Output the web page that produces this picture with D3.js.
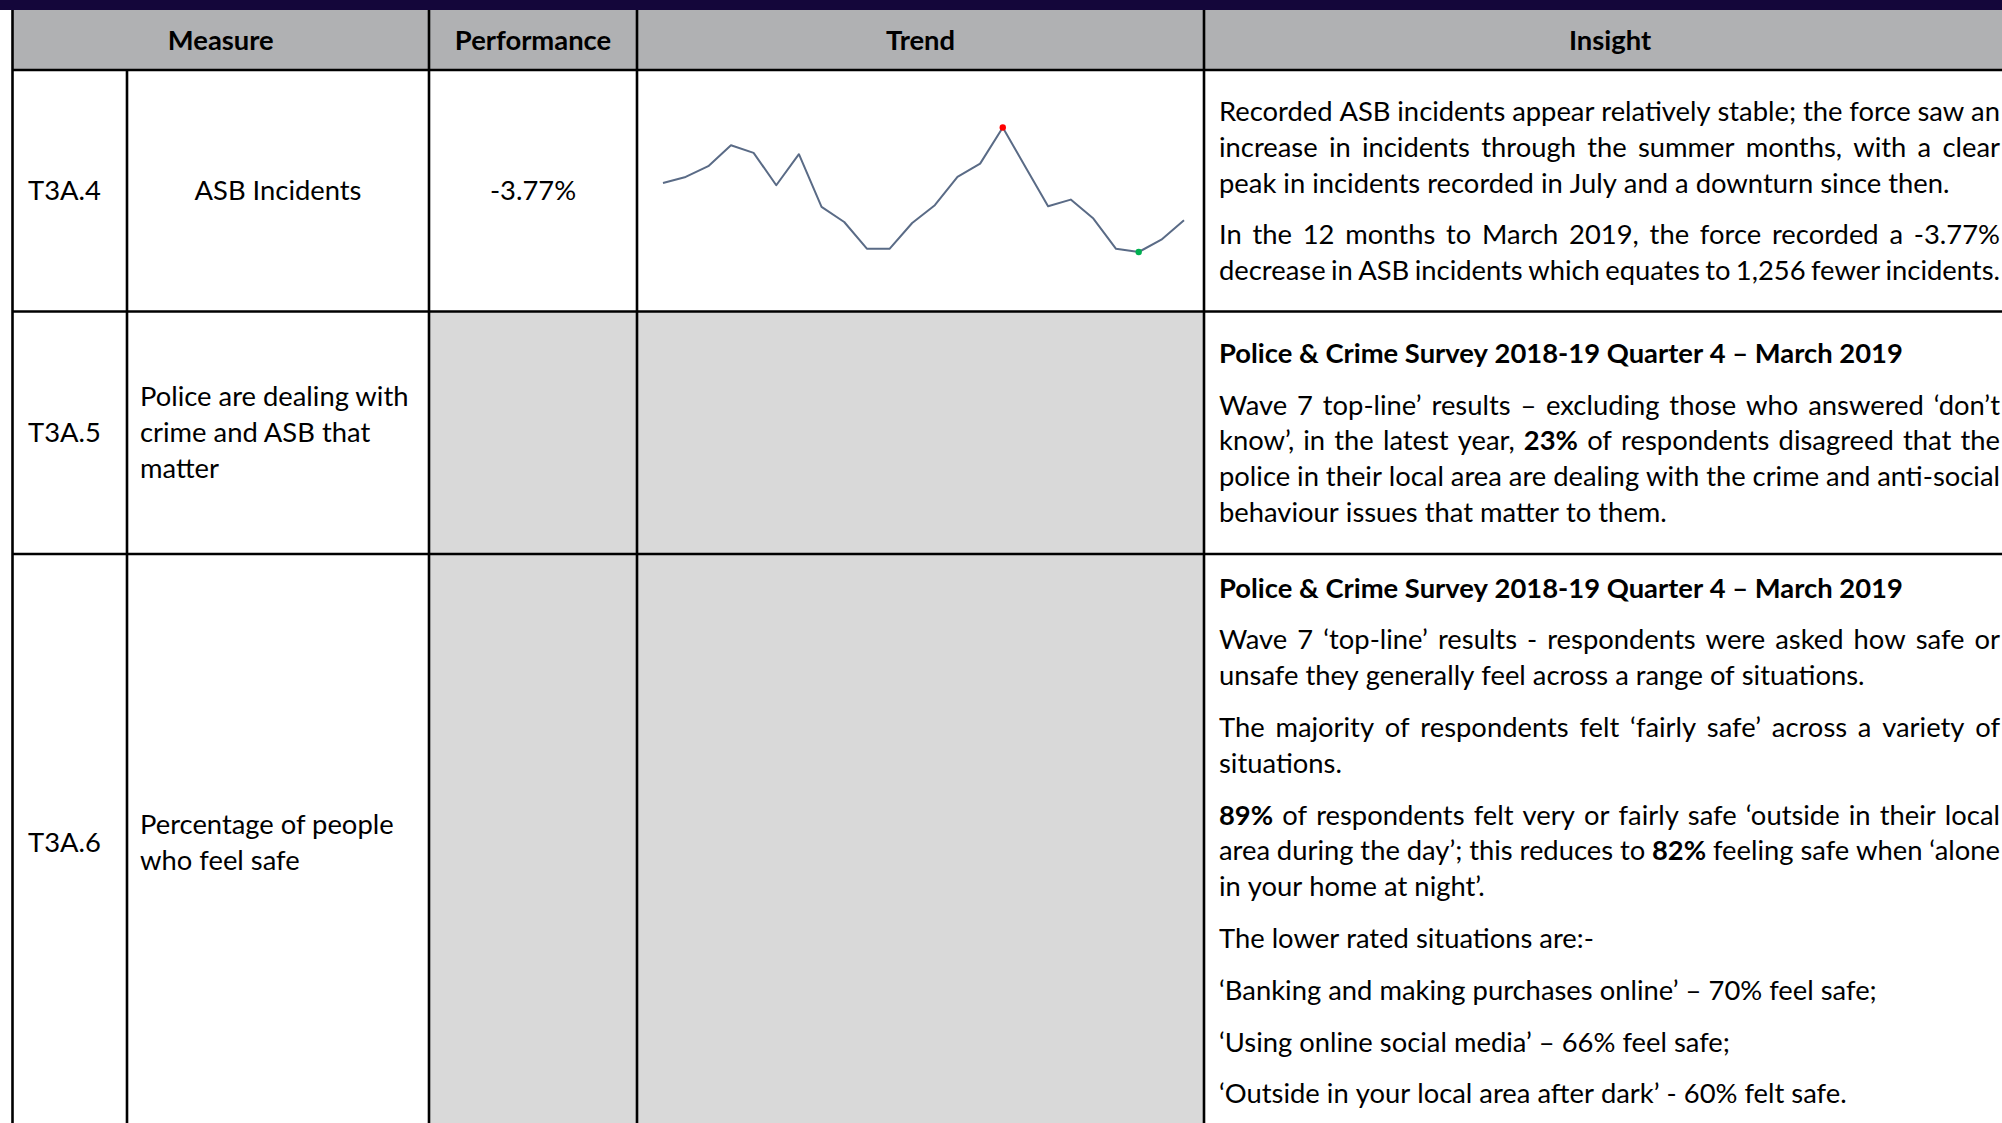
<!DOCTYPE html>
<html><head><meta charset="utf-8">
<script src="https://cdn.jsdelivr.net/npm/d3@7"></script>
<style>html,body{margin:0;padding:0;background:#fff;overflow:hidden}svg{display:block}</style>
</head><body>
<svg id="c" width="2002" height="1123"></svg>
<script>
// ---------------- DATA ----------------
const headers = ["Measure", "Performance", "Trend", "Insight"];
const measureIds = ["T3A.4", "T3A.5", "T3A.6"];
const measureNames = [
  ["ASB Incidents"],
  ["Police are dealing with", "crime and ASB that", "matter"],
  ["Percentage of people", "who feel safe"]
];
const performance = ["-3.77%", null, null];

// Monthly recorded ASB incidents (Apr 2017 – Mar 2019), read from the sparkline
const months = ["Apr-17","May-17","Jun-17","Jul-17","Aug-17","Sep-17","Oct-17","Nov-17","Dec-17","Jan-18","Feb-18","Mar-18",
                "Apr-18","May-18","Jun-18","Jul-18","Aug-18","Sep-18","Oct-18","Nov-18","Dec-18","Jan-19","Feb-19","Mar-19"];
const asbIncidents = [2886, 2953, 3073, 3307, 3222, 2860, 3207, 2618, 2450, 2152, 2150, 2439,
                      2637, 2953, 3102, 3505, 3065, 2625, 2700, 2488, 2150, 2115, 2253, 2469];

// Insight text: paragraphs of lines; **x** marks bold words
const insightRow1 = [
  {lines: ["Recorded ASB incidents appear relatively stable; the force saw an",
           "increase in incidents through the summer months, with a clear",
           "peak in incidents recorded in July and a downturn since then."]},
  {lines: ["In the 12 months to March 2019, the force recorded a -3.77%",
           "decrease in ASB incidents which equates to 1,256 fewer incidents."]}
];
const insightRow2 = [
  {title: true, lines: ["Police & Crime Survey 2018-19 Quarter 4 \u2013 March 2019"]},
  {lines: ["Wave 7 top-line\u2019 results \u2013 excluding those who answered \u2018don\u2019t",
           "know\u2019, in the latest year, **23%** of respondents disagreed that the",
           "police in their local area are dealing with the crime and anti-social",
           "behaviour issues that matter to them."]}
];
const insightRow3 = [
  {title: true, lines: ["Police & Crime Survey 2018-19 Quarter 4 \u2013 March 2019"]},
  {lines: ["Wave 7 \u2018top-line\u2019 results - respondents were asked how safe or",
           "unsafe they generally feel across a range of situations."]},
  {lines: ["The majority of respondents felt \u2018fairly safe\u2019 across a variety of",
           "situations."]},
  {lines: ["**89%** of respondents felt very or fairly safe \u2018outside in their local",
           "area during the day\u2019; this reduces to **82%** feeling safe when \u2018alone",
           "in your home at night\u2019."]},
  {lines: ["The lower rated situations are:-"]},
  {lines: ["\u2018Banking and making purchases online\u2019 \u2013 70% feel safe;"]},
  {lines: ["\u2018Using online social media\u2019 \u2013 66% feel safe;"]},
  {lines: ["\u2018Outside in your local area after dark\u2019 - 60% felt safe."]}
];
const insights = [insightRow1, insightRow2, insightRow3];

// ---------------- LAYOUT ----------------
const FONT = "Lato, 'Open Sans', 'DejaVu Sans', sans-serif";
const FS = 26;
const colX = [12.5, 127, 429, 637, 1204, 2016];
const rowY = [10, 70, 311.5, 554, 1132];
const insightFirstBaseline = [121, 362.7, 597.6];
const lineStep = 35.8, paraGap = 16;
const textLeft = 1219, textRight = 2000;

const svg = d3.select("#c");

// horizontal compression to emulate a narrow (Calibri-like) face
const probe = svg.append("text").attr("font-family", FONT).attr("font-size", FS)
  .text("peak in incidents recorded in July and a downturn since then.");
const sx = 729 / probe.node().getComputedTextLength();
probe.remove();

// top band
svg.append("rect").attr("x", 0).attr("y", 0).attr("width", 2002).attr("height", rowY[0]).attr("fill", "#14063a");
// header
svg.append("rect").attr("x", colX[0]).attr("y", rowY[0]).attr("width", colX[5] - colX[0]).attr("height", rowY[1] - rowY[0]).attr("fill", "#b0b1b3");
// grey cells (rows 2 and 3, Performance and Trend)
[1, 2].forEach(r => {
  svg.append("rect").attr("x", colX[2]).attr("y", rowY[r + 1]).attr("width", colX[4] - colX[2])
    .attr("height", rowY[r + 2] - rowY[r + 1]).attr("fill", "#d9d9d9");
});

// borders
const bw = 2.6;
const g = svg.append("g").attr("stroke", "#000").attr("stroke-width", bw);
[rowY[1], rowY[2], rowY[3], rowY[4]].forEach(y => g.append("line").attr("x1", colX[0]).attr("x2", colX[5]).attr("y1", y).attr("y2", y));
[colX[0], colX[2], colX[3], colX[4], colX[5]].forEach(x => g.append("line").attr("x1", x).attr("x2", x).attr("y1", rowY[0]).attr("y2", rowY[4]));
g.append("line").attr("x1", colX[1]).attr("x2", colX[1]).attr("y1", rowY[1]).attr("y2", rowY[4]);

function textAt(x, y, str, anchor, bold) {
  return svg.append("g").attr("transform", `translate(${x},${y}) scale(${sx},1)`)
    .append("text").attr("font-family", FONT).attr("font-size", FS)
    .attr("font-weight", bold ? "bold" : "normal").attr("text-anchor", anchor || "start")
    .attr("fill", "#000").text(str);
}

// headers
const hdrCenters = [(colX[0] + colX[2]) / 2, (colX[2] + colX[3]) / 2, (colX[3] + colX[4]) / 2, (colX[4] + colX[5]) / 2];
headers.forEach((h, i) => textAt(hdrCenters[i], 50, h, "middle", true));

// rows: ids, names, performance
measureIds.forEach((id, r) => {
  const top = rowY[r + 1], bot = rowY[r + 2];
  const mid = (top + bot) / 2;
  textAt(28, mid + 9.3, id, "start");
  const names = measureNames[r];
  const n = names.length;
  names.forEach((t, k) => {
    const by = mid + 9.3 + (k - (n - 1) / 2) * lineStep;
    if (r === 0) textAt((colX[1] + colX[2]) / 2, by, t, "middle");
    else textAt(140, by, t, "start");
  });
  if (performance[r]) textAt((colX[2] + colX[3]) / 2, mid + 9.3, performance[r], "middle");
});

// justified insight text
function measure(str, bold) {
  const t = svg.append("text").attr("font-family", FONT).attr("font-size", FS).attr("font-weight", bold ? "bold" : "normal").text(str);
  const w = t.node().getComputedTextLength(); t.remove(); return w;
}
const spaceW = measure("x x") - measure("xx");
const spaceWB = measure("x x", true) - measure("xx", true);
const avail = (textRight - textLeft) / sx;

insights.forEach((paras, r) => {
  let y = insightFirstBaseline[r];
  paras.forEach((p, pi) => {
    if (pi > 0) y += paraGap;
    p.lines.forEach((line, li) => {
      const words = line.split(" ").map(w => {
        const b = p.title || /^\*\*.*\*\*$/.test(w);
        const s = w.replace(/\*\*/g, "");
        return {s, b, w: measure(s, b)};
      });
      const sum = d3.sum(words, d => d.w);
      const natGap = p.title ? spaceWB : spaceW;
      const natural = sum + natGap * (words.length - 1);
      const justify = (!p.title && li < p.lines.length - 1) || natural > avail;
      const gap = justify ? (avail - sum) / (words.length - 1) : natGap;
      const lg = svg.append("g").attr("transform", `translate(${textLeft},${y}) scale(${sx},1)`);
      let x = 0;
      words.forEach(d => {
        lg.append("text").attr("x", x).attr("font-family", FONT).attr("font-size", FS)
          .attr("font-weight", d.b ? "bold" : "normal").attr("fill", "#000").text(d.s);
        x += d.w + gap;
      });
      y += lineStep;
    });
  });
});

// sparkline (Trend, row 1)
const xs = d3.scalePoint().domain(months).range([colX[3] + 26, colX[4] - 20]);
const ys = d3.scaleLinear().domain(d3.extent(asbIncidents)).range([rowY[2] - 59.5, rowY[1] + 57.5]);
const line = d3.line().x((d, i) => xs(months[i])).y(d => ys(d));
svg.append("path").datum(asbIncidents).attr("d", line).attr("fill", "none")
  .attr("stroke", "#5a6b86").attr("stroke-width", 2).attr("stroke-linejoin", "round");
const iMax = d3.maxIndex(asbIncidents), iMin = d3.minIndex(asbIncidents);
svg.append("circle").attr("cx", xs(months[iMax])).attr("cy", ys(asbIncidents[iMax])).attr("r", 3.2).attr("fill", "#ff0000");
svg.append("circle").attr("cx", xs(months[iMin])).attr("cy", ys(asbIncidents[iMin])).attr("r", 3.2).attr("fill", "#00b050");
</script>
</body></html>
